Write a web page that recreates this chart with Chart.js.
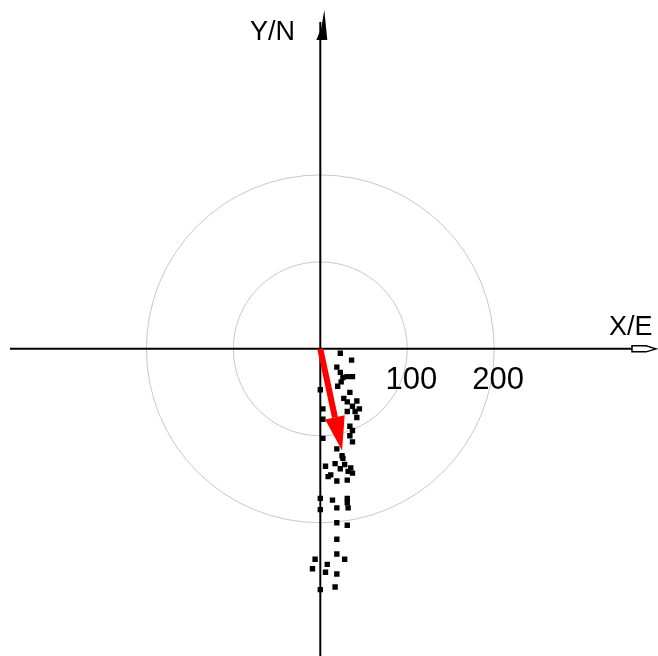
<!DOCTYPE html>
<html>
<head>
<meta charset="utf-8">
<script src="https://cdn.jsdelivr.net/npm/chart.js@4"></script>
<style>
  html, body { margin: 0; padding: 0; background: #fff; }
  #wrap { width: 658px; height: 656px; }
</style>
</head>
<body>
<div id="wrap"><canvas id="chart"></canvas></div>
<script>
// observations (east, north)
const eastValues = [23, 36, 19, 23, 31, 37, 26, 0, 20, 34, 31, 37, 45, 31, 3, 3, 34, 37, 34, 3, 37, 19, 25,
  26, 6, 17, 23, 32, 37, 9, 31, 19, 0, 14, 31, 31, 19, 32, 0, 19, 31, 19, 19, 28, -6, 8, -9, 6, 19, 0, 17,
  42, 40, 27, 12, 28, 35, 24, 42];
const northValues = [-5, -13, -21, -27, -32, -32, -33, -47, -43, -50, -61, -66, -69, -72, -69, -81, -89, -94, -100, -103, -107, -115, -123,
  -126, -135, -132, -138, -141, -143, -147, -151, -152, -172, -174, -172, -177, -183, -183, -185, -200, -203, -219, -236, -242, -242, -248, -253, -257, -259, -277, -274,
  -60, -72, -57, -145, -133, -137, -38, -79];
const meanVector = [25, -117];
const ringRadii = [100, 200];
const tickLabels = ["100", "200"];

const points = eastValues.map((x, i) => ({ x: x, y: northValues[i] }));

const compassPlugin = {
  id: "compass",
  beforeDatasetsDraw(chart) {
    const { ctx, scales: { x, y } } = chart;
    const ox = x.getPixelForValue(0), oy = y.getPixelForValue(0);
    ctx.save();
    // rings
    ctx.strokeStyle = "#c8c8c8";
    ctx.lineWidth = 1;
    ringRadii.forEach(r => {
      const rad = x.getPixelForValue(r) - ox;
      ctx.beginPath();
      ctx.arc(ox, oy, rad, 0, Math.PI * 2);
      ctx.stroke();
    });
    // axes
    ctx.strokeStyle = "#000";
    ctx.lineWidth = 2;
    ctx.beginPath();
    ctx.moveTo(10, oy); ctx.lineTo(640, oy);
    ctx.moveTo(ox, 22); ctx.lineTo(ox, 656);
    ctx.stroke();
    // right arrow (hollow)
    ctx.lineWidth = 1.5;
    ctx.fillStyle = "#fff";
    ctx.beginPath();
    ctx.moveTo(632, oy - 3); ctx.lineTo(646, oy - 3); ctx.lineTo(656, oy);
    ctx.lineTo(646, oy + 3); ctx.lineTo(632, oy + 3); ctx.closePath();
    ctx.fill(); ctx.stroke();
    // top arrow (filled)
    ctx.fillStyle = "#000";
    ctx.beginPath();
    ctx.moveTo(ox + 4, 10); ctx.lineTo(ox + 7, 40); ctx.lineTo(ox - 4, 40);
    ctx.lineTo(ox + 1, 28); ctx.closePath();
    ctx.fill();
    // labels
    ctx.fillStyle = "#000";
    ctx.font = "27px 'Liberation Sans', Arial, sans-serif";
    ctx.textAlign = "left";
    ctx.textBaseline = "alphabetic";
    ctx.fillText("Y/N", 250, 40);
    ctx.fillText("X/E", 609, 335);
    ctx.font = "31px 'Liberation Sans', Arial, sans-serif";
    ctx.textAlign = "center";
    ringRadii.forEach((r, i) => {
      ctx.fillText(tickLabels[i], x.getPixelForValue(r) + 4, oy + 40);
    });
    ctx.restore();
  },
  afterDatasetsDraw(chart) {
    const { ctx, scales: { x, y } } = chart;
    const ox = x.getPixelForValue(0), oy = y.getPixelForValue(0);
    const tx = x.getPixelForValue(meanVector[0]), ty = y.getPixelForValue(meanVector[1]);
    const ang = Math.atan2(ty - oy, tx - ox);
    const headLen = 34, headW = 10;
    const bx = tx - headLen * Math.cos(ang), by = ty - headLen * Math.sin(ang);
    ctx.save();
    ctx.strokeStyle = "#ff0000";
    ctx.fillStyle = "#ff0000";
    ctx.lineWidth = 6;
    ctx.beginPath();
    ctx.moveTo(ox, oy); ctx.lineTo(bx, by);
    ctx.stroke();
    ctx.beginPath();
    ctx.moveTo(tx, ty);
    ctx.lineTo(bx + headW * Math.sin(ang), by - headW * Math.cos(ang));
    ctx.lineTo(bx - headW * Math.sin(ang), by + headW * Math.cos(ang));
    ctx.closePath();
    ctx.fill();
    ctx.restore();
  }
};

new Chart(document.getElementById("chart"), {
  type: "scatter",
  data: {
    datasets: [{
      data: points,
      pointStyle: "rect",
      pointRadius: 3.8,
      pointHoverRadius: 3.8,
      backgroundColor: "#000",
      borderColor: "#000",
      borderWidth: 0
    }]
  },
  options: {
    responsive: true,
    maintainAspectRatio: false,
    animation: false,
    layout: { padding: 0 },
    plugins: { legend: { display: false }, tooltip: { enabled: false } },
    scales: {
      x: { type: "linear", min: -364, max: 384, display: false },
      y: { type: "linear", min: -349, max: 397, display: false }
    }
  },
  plugins: [compassPlugin]
});
</script>
</body>
</html>
